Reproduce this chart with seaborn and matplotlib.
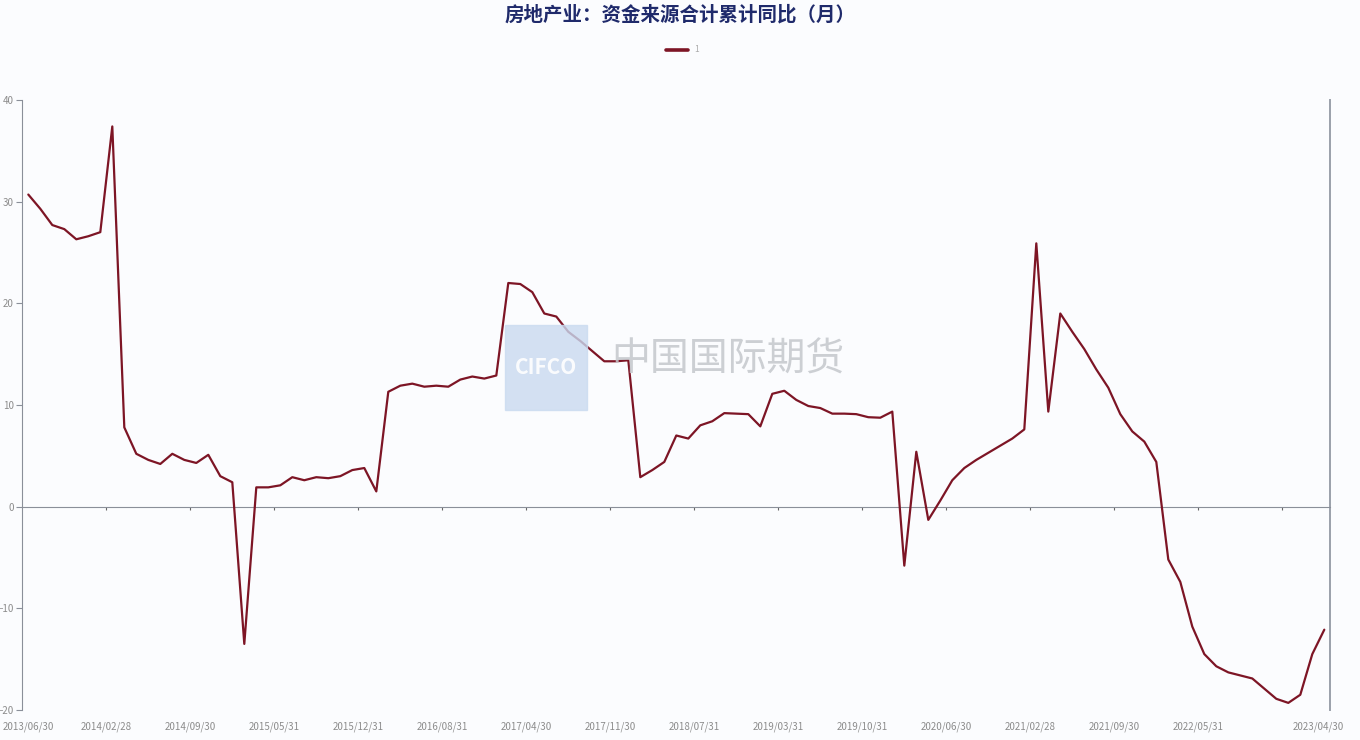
import numpy as np
import pandas as pd
import matplotlib
matplotlib.use('Agg')
import matplotlib.pyplot as plt
import seaborn as sns

## config.
sns.set_style('white')
plt.rcParams['font.family'] = ['Noto Sans CJK SC', 'DejaVu Sans']

## data: month ends, no January (Jan-Feb reported together)
months = pd.date_range('2013-06-30', '2023-04-30', freq='ME')
months = months[months.month != 1]
month_labels = [d.strftime('%Y/%m/%d') for d in months]

values = [30.7, 29.3, 27.7, 27.3, 26.3, 26.6, 27.0, 37.4, 7.8, 5.2,
          4.6, 4.2, 5.2, 4.6, 4.3, 5.1, 3.0, 2.4, -13.5, 1.9,
          1.9, 2.1, 2.9, 2.6, 2.9, 2.8, 3.0, 3.6, 3.8, 1.5,
          11.3, 11.9, 12.1, 11.8, 11.9, 11.8, 12.5, 12.8, 12.6, 12.9,
          22.0, 21.9, 21.1, 19.0, 18.7, 17.2, 16.3, 15.3, 14.3, 14.3,
          14.4, 2.9, 3.6, 4.4, 7.0, 6.7, 8.0, 8.4, 9.2, 9.15,
          9.1, 7.9, 11.1, 11.4, 10.5, 9.9, 9.7, 9.15, 9.15, 9.1,
          8.8, 8.75, 9.35, -5.8, 5.4, -1.3, 0.6, 2.6, 3.8, 4.6,
          5.3, 6.0, 6.7, 7.6, 25.9, 9.35, 19.0, 17.2, 15.5, 13.5,
          11.7, 9.1, 7.4, 6.4, 4.4, -5.2, -7.4, -11.8, -14.5, -15.7,
          -16.3, -16.6, -16.9, -17.9, -18.9, -19.3, -18.5, -14.5, -12.1]

label_idx = list(range(0, 99, 7)) + [108]
tick_labels = [month_labels[i] for i in label_idx]
y_ticks = [-20, -10, 0, 10, 20, 30, 40]

title = '房地产业：资金来源合计累计同比（月）'
series_name = '1'

df = pd.DataFrame({'pos': np.arange(len(values)) + 0.5, 'value': values})

## figure
bg = '#fbfcfe'
fig = plt.figure(figsize=(13.6, 7.4), dpi=100, facecolor=bg)
ax = fig.add_axes([22.3 / 1360, 1 - 710 / 740, (1330.3 - 22.3) / 1360, 610 / 740])
ax.set_facecolor(bg)

# watermark
fig.patches.append(plt.Rectangle((505 / 1360, 1 - 410 / 740), 82 / 1360, 85 / 740,
                                 transform=fig.transFigure, color='#c9daf0',
                                 alpha=0.8, zorder=0))
fig.text(546 / 1360, 1 - 368 / 740, 'CIFCO', color='white', fontsize=15,
         fontweight='bold', ha='center', va='center', alpha=0.9, zorder=0)
fig.text(728 / 1360, 1 - 360 / 740, '中国国际期货', color='#c4c7cc', fontsize=28,
         ha='center', va='center', alpha=0.85, zorder=0)

sns.lineplot(data=df, x='pos', y='value', ax=ax, color='#7d1525', linewidth=1.6,
             label=series_name, zorder=3)

ax.set_xlim(0, len(values))
ax.set_ylim(-20, 40)
ax.set_xlabel('')
ax.set_ylabel('')

# x axis line on zero
ax.spines['bottom'].set_position(('data', 0))
ax.spines['bottom'].set_color('#8a8f99')
ax.spines['bottom'].set_linewidth(0.8)
ax.spines['top'].set_visible(False)
ax.spines['left'].set_color('#8a8f99')
ax.spines['left'].set_linewidth(0.8)
ax.spines['right'].set_color('#9aa0aa')
ax.spines['right'].set_linewidth(1.4)
ax.set_xticks(range(7, 106, 7))
ax.tick_params(axis='x', bottom=True, direction='out', length=2.5, width=0.8,
               color='#666666', labelbottom=False)
ax.set_yticks(y_ticks)
ax.tick_params(axis='y', left=True, direction='out', length=4, width=0.8,
               color='#8a8f99', labelsize=7, labelcolor='#8c8c8c', pad=2)

# date labels at the bottom (first one pushed inward like the original)
label_pos = [0.5 if i == 0 else i for i in label_idx]
sec = ax.secondary_xaxis('bottom')
sec.set_xticks(label_pos, labels=tick_labels)
sec.tick_params(bottom=True, length=0, labelsize=7, labelcolor='#8c8c8c', pad=8)
sec.spines['bottom'].set_visible(False)

# title and legend
fig.text(0.5, 1 - 15 / 740, title, ha='center', va='center', fontsize=14,
         fontweight='bold', color='#1f2a6b')
leg = ax.legend(loc='center', bbox_to_anchor=(0.502, 1 - 50 / 740),
                bbox_transform=fig.transFigure, frameon=False, fontsize=6,
                labelcolor='#aaaaaa', handlelength=2.6)
for h in leg.get_lines():
    h.set_linewidth(2.6)

fig.savefig('out.png', dpi=100, facecolor=bg)
